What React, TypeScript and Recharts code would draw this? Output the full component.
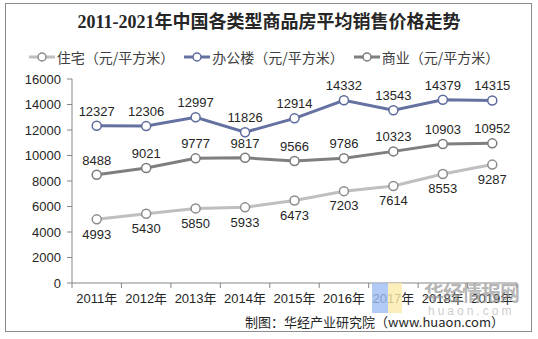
import React from 'react';
import { LineChart, Line, XAxis, YAxis, LabelList } from 'recharts';

const categories = ['2011年', '2012年', '2013年', '2014年', '2015年', '2016年', '2017年', '2018年', '2019年'];
const residential = [4993, 5430, 5850, 5933, 6473, 7203, 7614, 8553, 9287];
const office = [12327, 12306, 12997, 11826, 12914, 14332, 13543, 14379, 14315];
const commercial = [8488, 9021, 9777, 9817, 9566, 9786, 10323, 10903, 10952];
const yTicks = [0, 2000, 4000, 6000, 8000, 10000, 12000, 14000, 16000];

const seriesNames = ['住宅（元/平方米）', '办公楼（元/平方米）', '商业（元/平方米）'];

const data = categories.map((c, i) => ({
  cat: c,
  residential: residential[i],
  office: office[i],
  commercial: commercial[i],
}));

const FONT = '"Liberation Sans", Arial, "Noto Sans CJK SC", sans-serif';
const AXIS = '#868686';
const W = 538;
const H = 339;
const PLOT_LEFT = 72;
const PLOT_RIGHT = 517;
const PLOT_BOTTOM = 283;
const BAND = (PLOT_RIGHT - PLOT_LEFT) / categories.length;

const XTick = (props: any) => {
  const { x, payload, index } = props;
  const half = BAND / 2;
  const isLast = index === categories.length - 1;
  const y0 = PLOT_BOTTOM;
  return (
    <g>
      <line x1={x - half} x2={x - half} y1={y0} y2={y0 + 5} stroke={AXIS} />
      {isLast && <line x1={x + half} x2={x + half} y1={y0} y2={y0 + 5} stroke={AXIS} />}
      <text x={x} y={y0 + 20} textAnchor="middle" fontSize={13} fill="#262626" fontFamily={FONT}>
        {payload.value}
      </text>
    </g>
  );
};

const colors = {
  residential: { line: '#BFBFBF', dot: '#8C8C8C' },
  office: { line: '#6571A1', dot: '#5D6A9C' },
  commercial: { line: '#7F7F7F', dot: '#7A7A7A' },
};

const LegendItem = ({ line, dot, label }: { line: string; dot: string; label: string }) => (
  <div style={{ display: 'flex', alignItems: 'center', marginRight: 10 }}>
    <svg width={26} height={12} style={{ marginRight: 2 }}>
      <line x1={0} x2={26} y1={6} y2={6} stroke={line} strokeWidth={3} />
      <circle cx={13} cy={6} r={4} fill="#fff" stroke={dot} strokeWidth={1.5} />
    </svg>
    <span>{label}</span>
  </div>
);

export default function App() {
  const keys: ('residential' | 'office' | 'commercial')[] = ['residential', 'office', 'commercial'];
  return (
    <div style={{ position: 'absolute', left: 0, top: 0, width: W, height: H, background: '#fff', overflow: 'hidden' }}>
      <div
        style={{
          position: 'absolute',
          left: 5,
          top: 3,
          width: 527,
          height: 329,
          border: '1px solid #8C8C8C',
          boxSizing: 'border-box',
        }}
      />
      <div
        style={{
          position: 'absolute',
          left: 0,
          top: 10,
          width: W,
          textAlign: 'center',
          fontFamily: '"Liberation Serif", "Noto Sans CJK SC", serif',
          fontWeight: 'bold',
          fontSize: 18,
          color: '#262626',
          lineHeight: '24px',
        }}
      >
        2011-2021年中国各类型商品房平均销售价格走势
      </div>
      <div
        style={{
          position: 'absolute',
          left: 0,
          top: 48,
          width: W,
          display: 'flex',
          justifyContent: 'center',
          fontFamily: '"Noto Sans CJK SC", sans-serif',
          fontSize: 14,
          color: '#404040',
          lineHeight: '18px',
        }}
      >
        {keys.map((k, i) => (
          <LegendItem key={k} line={colors[k].line} dot={colors[k].dot} label={seriesNames[i]} />
        ))}
      </div>
      <div style={{ position: 'absolute', left: 0, top: 0 }}>
        <LineChart width={W} height={H} data={data} margin={{ top: 79, right: W - PLOT_RIGHT, bottom: H - PLOT_BOTTOM - 30, left: 0 }}>
          <XAxis
            dataKey="cat"
            scale="band"
            stroke={AXIS}
            tickLine={false}
            tick={<XTick />}
            interval={0}
            height={30}
          />
          <YAxis
            domain={[0, 16000]}
            ticks={yTicks}
            width={PLOT_LEFT}
            stroke={AXIS}
            tickSize={5}
            tickMargin={6}
            interval={0}
            tick={{ fontSize: 13, fill: '#262626', fontFamily: FONT }}
          />
          <Line
            dataKey="residential"
            stroke={colors.residential.line}
            strokeWidth={3}
            dot={{ r: 4.5, fill: '#fff', stroke: colors.residential.dot, strokeWidth: 1.5 }}
            isAnimationActive={false}
          >
            <LabelList dataKey="residential" position="bottom" offset={10} fontSize={13} fill="#262626" fontFamily={FONT} />
          </Line>
          <Line
            dataKey="commercial"
            stroke={colors.commercial.line}
            strokeWidth={3}
            dot={{ r: 4.5, fill: '#fff', stroke: colors.commercial.dot, strokeWidth: 1.5 }}
            isAnimationActive={false}
          >
            <LabelList dataKey="commercial" position="top" offset={10} fontSize={13} fill="#262626" fontFamily={FONT} />
          </Line>
          <Line
            dataKey="office"
            stroke={colors.office.line}
            strokeWidth={3}
            dot={{ r: 4.5, fill: '#fff', stroke: colors.office.dot, strokeWidth: 1.5 }}
            isAnimationActive={false}
          >
            <LabelList dataKey="office" position="top" offset={10} fontSize={13} fill="#262626" fontFamily={FONT} />
          </Line>
        </LineChart>
      </div>
      {/* watermark */}
      <div style={{ position: 'absolute', left: 372, top: 283, width: 16, height: 30, background: '#9DBDF4', opacity: 0.8 }} />
      <div style={{ position: 'absolute', left: 388, top: 283, width: 14, height: 30, background: '#FCEBAA', opacity: 0.8 }} />
      <div
        style={{
          position: 'absolute',
          left: 424,
          top: 280,
          fontFamily: '"Noto Sans CJK SC", sans-serif',
          fontWeight: 'bold',
          fontSize: 20,
          color: 'rgba(150,150,150,0.7)',
          lineHeight: '26px',
          letterSpacing: -1,
        }}
      >
        华经情报网
      </div>
      <div
        style={{
          position: 'absolute',
          left: 428,
          top: 304,
          fontFamily: FONT,
          fontSize: 12,
          color: 'rgba(190,190,190,0.8)',
          letterSpacing: 3,
          lineHeight: '14px',
        }}
      >
        huaon.com
      </div>
      <div
        style={{
          position: 'absolute',
          right: 34,
          top: 313,
          fontFamily: '"Noto Sans CJK SC", sans-serif',
          fontSize: 13,
          color: '#262626',
          lineHeight: '18px',
          whiteSpace: 'nowrap',
        }}
      >
        制图：华经产业研究院（www.huaon.com）
      </div>
    </div>
  );
}
